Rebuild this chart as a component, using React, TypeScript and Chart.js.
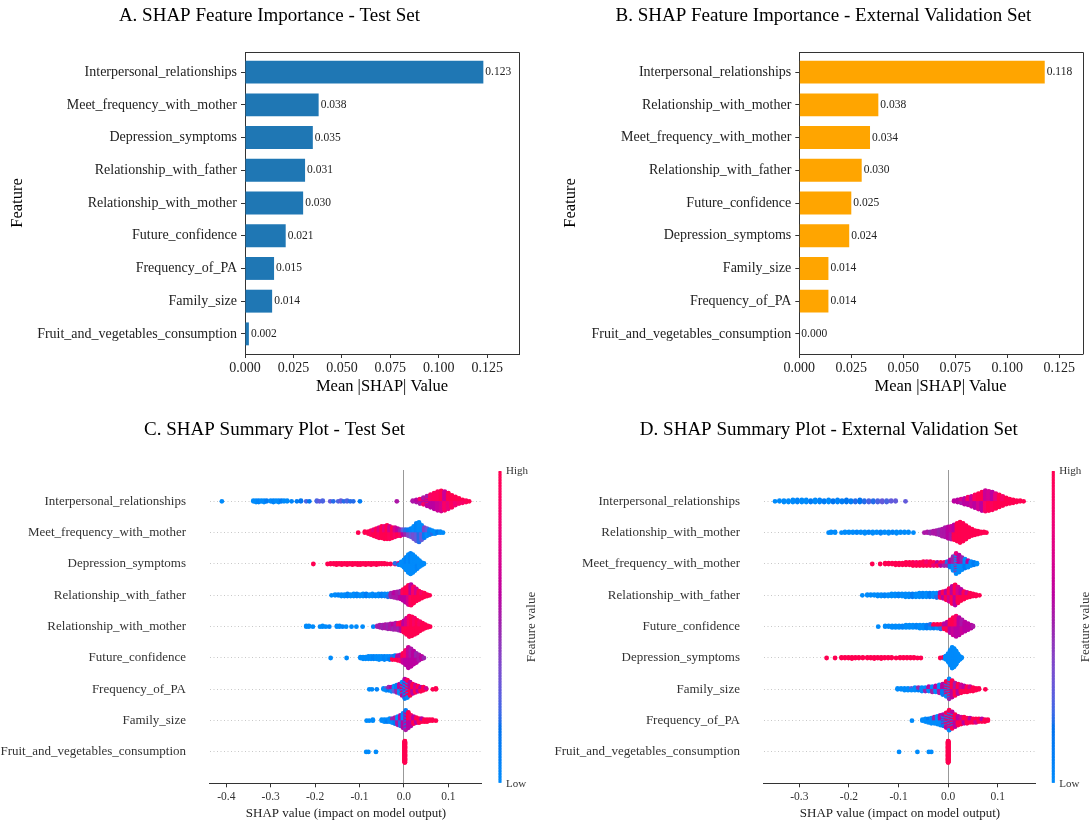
import React, { useEffect, useRef } from "react";
import { Chart, registerables } from "chart.js";

Chart.register(...registerables);

const SERIF = "'Liberation Serif', 'Times New Roman', Times, serif";
const PAGE_W = 1089;
const PAGE_H = 823;

// ---------- Mean |SHAP| importance (panels A and B) ----------
const testFeatures = [
  "Interpersonal_relationships",
  "Meet_frequency_with_mother",
  "Depression_symptoms",
  "Relationship_with_father",
  "Relationship_with_mother",
  "Future_confidence",
  "Frequency_of_PA",
  "Family_size",
  "Fruit_and_vegetables_consumption",
];
const testMeanShap = [0.123, 0.038, 0.035, 0.031, 0.03, 0.021, 0.015, 0.014, 0.002];

const extFeatures = [
  "Interpersonal_relationships",
  "Relationship_with_mother",
  "Meet_frequency_with_mother",
  "Relationship_with_father",
  "Future_confidence",
  "Depression_symptoms",
  "Family_size",
  "Frequency_of_PA",
  "Fruit_and_vegetables_consumption",
];
const extMeanShap = [0.118, 0.038, 0.034, 0.03, 0.025, 0.024, 0.014, 0.014, 0.0];

const importanceTicks = [0, 0.025, 0.05, 0.075, 0.1, 0.125];
const shapTicksTest = [-0.4, -0.3, -0.2, -0.1, 0, 0.1];
const shapTicksExt = [-0.3, -0.2, -0.1, 0, 0.1];

// ---------- SHAP summary samples (panels C and D) ----------
// Each entry: [SHAP value, number of samples, feature value(s) in 0..1 cycled over those samples]
const shapTestInterpersonal = [
  [-0.41, 1, 0.0],
  [-0.339, 2, 0.0], [-0.333, 3, 0.0], [-0.327, 3, 0.05], [-0.321, 2, 0.0], [-0.315, 3, 0.0],
  [-0.309, 2, 0.1], [-0.3, 2, 0.0], [-0.294, 3, 0.05], [-0.288, 2, 0.0], [-0.282, 3, 0.0],
  [-0.276, 2, 0.1], [-0.27, 2, 0.0], [-0.263, 2, 0.0],
  [-0.253, 1, 0.05], [-0.241, 1, 0.1], [-0.232, 2, 0.15], [-0.22, 1, 0.25], [-0.213, 1, 0.15],
  [-0.196, 2, 0.25], [-0.19, 1, 0.3], [-0.183, 2, 0.25],
  [-0.166, 1, 0.3], [-0.159, 1, 0.2],
  [-0.148, 1, 0.25], [-0.142, 2, 0.3], [-0.135, 1, 0.2], [-0.128, 2, 0.25], [-0.121, 1, 0.2],
  [-0.114, 1, 0.2], [-0.099, 1, 0.1],
  [-0.016, 1, 0.55],
  [0.02, 2, 0.55], [0.028, 4, 0.55, 0.6], [0.036, 7, 0.55, 0.6, 0.9], [0.044, 10, 0.55, 0.6, 0.9],
  [0.052, 14, 0.6, 0.55, 0.95], [0.06, 18, 0.6, 0.9], [0.068, 22, 0.6, 0.95], [0.076, 26, 0.65, 0.95],
  [0.084, 28, 0.7, 1.0], [0.092, 26, 0.9, 0.65], [0.1, 22, 0.8, 1.0], [0.108, 17, 0.95, 1.0],
  [0.116, 12, 0.85, 1.0], [0.124, 8, 0.9, 1.0], [0.132, 5, 0.9, 1.0], [0.14, 3, 0.95], [0.147, 1, 1.0],
];
const shapTestMeetFreq = [
  [-0.103, 1, 1.0], [-0.088, 2, 1.0], [-0.08, 3, 1.0], [-0.074, 5, 0.95], [-0.068, 7, 1.0, 0.8],
  [-0.062, 9, 1.0], [-0.056, 11, 0.95, 0.75], [-0.05, 12, 1.0], [-0.044, 13, 1.0, 0.8], [-0.038, 14, 1.0],
  [-0.032, 13, 0.95, 0.7], [-0.026, 11, 1.0], [-0.02, 10, 0.9, 0.7], [-0.014, 8, 1.0, 0.6],
  [-0.008, 7, 0.9, 0.5], [-0.002, 6, 0.6, 0.3], [0.004, 6, 0.5, 0.2], [0.01, 7, 0.4, 0.1],
  [0.016, 9, 0.3, 0.05], [0.022, 13, 0.35, 0.0], [0.028, 18, 0.3, 0.05], [0.034, 20, 0.2, 0.0],
  [0.04, 15, 0.3, 0.0], [0.046, 11, 0.1, 0.4], [0.052, 8, 0.0, 0.3], [0.058, 6, 0.05],
  [0.064, 4, 0.2, 0.0], [0.07, 3, 0.0], [0.076, 2, 0.1], [0.082, 2, 0.0], [0.088, 1, 0.0],
];
const shapTestDepression = [
  [-0.204, 1, 1], [-0.172, 1, 1], [-0.165, 2, 1], [-0.158, 2, 1], [-0.152, 3, 1], [-0.146, 2, 1],
  [-0.14, 3, 1], [-0.134, 2, 1], [-0.128, 3, 1], [-0.122, 2, 1], [-0.116, 3, 1], [-0.11, 2, 1],
  [-0.104, 3, 1], [-0.098, 3, 1], [-0.092, 2, 1], [-0.086, 3, 1], [-0.08, 2, 1], [-0.074, 3, 1],
  [-0.068, 2, 1], [-0.062, 3, 1], [-0.056, 2, 1], [-0.05, 2, 1], [-0.044, 2, 1], [-0.038, 1, 1],
  [-0.03, 1, 1], [-0.02, 2, 0.9, 0.2], [-0.012, 3, 0.1, 0.8], [-0.006, 6, 0.0], [0.0, 12, 0.0],
  [0.005, 20, 0.0, 0.05], [0.01, 28, 0.0], [0.015, 32, 0.0, 0.05], [0.02, 28, 0.0], [0.025, 22, 0.0],
  [0.03, 16, 0.05, 0.0], [0.035, 10, 0.0], [0.04, 5, 0.0], [0.045, 2, 0.0],
];
const shapTestFather = [
  [-0.163, 1, 0.0], [-0.155, 2, 0.0], [-0.148, 2, 0.05], [-0.141, 3, 0.0], [-0.134, 3, 0.0],
  [-0.127, 4, 0.05], [-0.12, 3, 0.0], [-0.113, 4, 0.0], [-0.106, 4, 0.05], [-0.099, 3, 0.0],
  [-0.092, 4, 0.0], [-0.085, 4, 0.1], [-0.078, 3, 0.0], [-0.071, 4, 0.0], [-0.064, 3, 0.05],
  [-0.057, 4, 0.0], [-0.05, 4, 0.1], [-0.043, 4, 0.05], [-0.036, 5, 0.2, 0.0], [-0.029, 6, 0.5],
  [-0.022, 8, 0.55, 0.6], [-0.015, 10, 0.55], [-0.008, 12, 0.6, 0.5], [-0.002, 16, 0.6, 0.95],
  [0.004, 22, 0.6, 1.0], [0.01, 28, 0.7, 1.0], [0.016, 30, 0.95, 0.6], [0.022, 24, 1.0, 0.9],
  [0.028, 18, 1.0, 0.7], [0.034, 13, 1.0], [0.04, 9, 1.0, 0.9], [0.046, 6, 1.0], [0.052, 3, 1.0],
  [0.058, 1, 1.0],
];
const shapTestMother = [
  [-0.22, 2, 0.0], [-0.214, 2, 0.0], [-0.205, 1, 0.0], [-0.189, 1, 0.0], [-0.183, 2, 0.0],
  [-0.176, 1, 0.0], [-0.168, 1, 0.05], [-0.151, 2, 0.0], [-0.145, 2, 0.0], [-0.138, 1, 0.05],
  [-0.13, 1, 0.0], [-0.118, 1, 0.0], [-0.107, 1, 0.0], [-0.093, 1, 0.0], [-0.069, 1, 0.05],
  [-0.06, 2, 0.5], [-0.054, 4, 0.55], [-0.048, 5, 0.5], [-0.042, 6, 0.55], [-0.036, 7, 0.5],
  [-0.03, 8, 0.55], [-0.024, 9, 0.5, 0.6], [-0.018, 10, 0.55], [-0.012, 11, 0.5, 0.9],
  [-0.006, 13, 0.6, 1.0], [0.0, 17, 1.0, 0.6], [0.006, 24, 1.0, 0.7], [0.012, 30, 1.0, 0.9],
  [0.018, 28, 1.0], [0.024, 24, 1.0, 0.9], [0.03, 19, 1.0], [0.036, 14, 1.0, 0.9], [0.042, 10, 1.0],
  [0.048, 6, 1.0], [0.054, 3, 1.0], [0.059, 1, 1.0],
];
const shapTestFuture = [
  [-0.165, 1, 0.0], [-0.129, 1, 0.0], [-0.098, 2, 0.0], [-0.092, 3, 0.0], [-0.086, 3, 0.0],
  [-0.08, 4, 0.0], [-0.074, 4, 0.0], [-0.068, 4, 0.05], [-0.062, 4, 0.0], [-0.056, 5, 0.0],
  [-0.05, 4, 0.0], [-0.044, 5, 0.05], [-0.038, 4, 0.0], [-0.032, 5, 0.1, 0.0], [-0.026, 5, 1.0, 0.2],
  [-0.02, 6, 1.0, 0.1], [-0.014, 7, 1.0, 0.6], [-0.008, 9, 0.9, 0.6], [-0.002, 13, 0.65, 1.0],
  [0.004, 20, 0.6, 0.9], [0.01, 28, 0.6, 0.65], [0.016, 24, 0.6, 0.55], [0.022, 18, 0.6],
  [0.028, 13, 0.6, 0.5], [0.034, 8, 0.55], [0.04, 4, 0.6], [0.045, 1, 0.5],
];
const shapTestPA = [
  [-0.078, 1, 0.0], [-0.072, 1, 0.0], [-0.061, 1, 0.05], [-0.046, 2, 0.0], [-0.04, 3, 0.0, 0.3],
  [-0.034, 4, 0.1, 0.5], [-0.028, 5, 0.0, 0.6], [-0.022, 6, 0.3, 0.0], [-0.016, 8, 0.5, 0.1],
  [-0.01, 10, 0.0, 0.6], [-0.004, 14, 0.6, 0.0, 1.0], [0.002, 20, 0.1, 0.6, 0.0], [0.008, 18, 0.7, 0.0, 1.0],
  [0.014, 14, 1.0, 0.6], [0.02, 10, 0.6, 1.0], [0.026, 8, 1.0, 0.7], [0.032, 6, 0.6, 1.0],
  [0.038, 5, 1.0, 0.6], [0.044, 4, 1.0], [0.05, 2, 1.0, 0.7], [0.065, 1, 1.0], [0.072, 2, 1.0],
];
const shapTestFamily = [
  [-0.084, 1, 0.0], [-0.078, 1, 0.0], [-0.07, 2, 0.0], [-0.05, 2, 0.0], [-0.044, 3, 0.0],
  [-0.038, 3, 0.1, 0.0], [-0.032, 4, 0.0], [-0.026, 5, 0.0, 0.5], [-0.02, 7, 0.1, 0.55],
  [-0.014, 9, 0.55, 0.0], [-0.008, 11, 0.2, 0.6], [-0.002, 15, 0.6, 0.0], [0.004, 20, 0.55, 0.1, 0.6],
  [0.01, 16, 0.6, 1.0], [0.016, 11, 0.6, 0.9], [0.022, 8, 1.0, 0.6], [0.028, 6, 0.6, 1.0],
  [0.034, 5, 1.0], [0.04, 4, 1.0, 0.6], [0.046, 3, 1.0], [0.052, 3, 1.0], [0.058, 2, 1.0],
  [0.064, 2, 1.0], [0.072, 1, 1.0],
];
const shapTestFruit = [
  [-0.085, 1, 0.0], [-0.08, 1, 0.0], [-0.063, 1, 0.0], [0.002, 60, 1.0],
];

const shapExtInterpersonal = [
  [-0.349, 1, 0], [-0.34, 2, 0], [-0.331, 3, 0], [-0.322, 3, 0], [-0.313, 4, 0], [-0.304, 4, 0.05],
  [-0.295, 4, 0], [-0.286, 4, 0], [-0.277, 3, 0.1], [-0.268, 4, 0], [-0.259, 4, 0.05], [-0.25, 3, 0.1],
  [-0.241, 4, 0], [-0.232, 3, 0.15], [-0.223, 4, 0.05], [-0.214, 3, 0.1], [-0.205, 4, 0.15],
  [-0.196, 3, 0.1], [-0.187, 3, 0.2], [-0.178, 4, 0.15], [-0.169, 3, 0.2], [-0.16, 3, 0.25],
  [-0.151, 3, 0.2], [-0.142, 3, 0.25], [-0.133, 3, 0.3], [-0.124, 3, 0.25], [-0.115, 2, 0.3],
  [-0.106, 2, 0.3], [-0.086, 1, 0.3],
  [0.012, 2, 0.6], [0.019, 4, 0.6], [0.026, 6, 0.55, 0.7], [0.033, 9, 0.6], [0.04, 12, 0.6, 0.9],
  [0.047, 15, 0.65], [0.054, 19, 0.6, 0.95], [0.061, 23, 0.7, 1.0], [0.068, 27, 0.6, 1.0],
  [0.075, 30, 0.9, 0.65], [0.082, 28, 1.0, 0.7], [0.089, 26, 0.95, 0.6], [0.096, 22, 1.0, 0.8],
  [0.103, 18, 1.0], [0.11, 14, 1.0, 0.9], [0.117, 10, 1.0], [0.124, 7, 1.0], [0.131, 5, 1.0],
  [0.138, 3, 1.0], [0.145, 2, 1.0], [0.152, 1, 1.0],
];
const shapExtMother = [
  [-0.241, 1, 0], [-0.236, 2, 0], [-0.228, 2, 0], [-0.215, 1, 0], [-0.208, 2, 0], [-0.2, 2, 0],
  [-0.192, 2, 0], [-0.184, 2, 0.05], [-0.176, 2, 0], [-0.168, 3, 0], [-0.16, 2, 0.05], [-0.152, 3, 0],
  [-0.144, 2, 0], [-0.136, 3, 0.05], [-0.128, 2, 0], [-0.12, 3, 0], [-0.112, 2, 0.05], [-0.104, 3, 0],
  [-0.096, 2, 0], [-0.088, 2, 0], [-0.08, 2, 0], [-0.07, 1, 0],
  [-0.048, 1, 0.55], [-0.042, 2, 0.55], [-0.036, 3, 0.5], [-0.03, 4, 0.55], [-0.024, 6, 0.55],
  [-0.018, 8, 0.5], [-0.012, 11, 0.55], [-0.006, 14, 0.55], [0.0, 17, 0.6], [0.006, 19, 0.55, 0.65],
  [0.012, 22, 1.0, 0.6], [0.018, 26, 1.0], [0.024, 30, 1.0], [0.03, 26, 1.0], [0.036, 20, 1.0],
  [0.042, 14, 1.0], [0.048, 10, 1.0], [0.054, 7, 1.0], [0.06, 5, 1.0], [0.066, 3, 1.0],
  [0.072, 2, 1.0], [0.077, 1, 1.0],
];
const shapExtMeetFreq = [
  [-0.153, 1, 1], [-0.137, 1, 1], [-0.127, 2, 1], [-0.12, 2, 1], [-0.113, 2, 1], [-0.106, 3, 1],
  [-0.099, 3, 1], [-0.092, 3, 1], [-0.085, 4, 1], [-0.078, 4, 1], [-0.071, 5, 1], [-0.064, 5, 1, 0.9],
  [-0.057, 5, 1], [-0.05, 6, 1], [-0.043, 6, 1, 0.85], [-0.036, 6, 1], [-0.029, 5, 0.8, 1],
  [-0.022, 5, 1, 0.6], [-0.015, 5, 0.6, 1], [-0.008, 5, 0.5, 0.9], [-0.002, 6, 0.5, 0.2],
  [0.004, 10, 0.1, 0.6], [0.01, 18, 0, 0.5], [0.016, 26, 0, 0.8, 0], [0.022, 22, 0, 0.6],
  [0.028, 16, 0, 0.5], [0.034, 12, 0.1, 0], [0.04, 9, 0, 0.6], [0.046, 6, 0], [0.052, 4, 0.1],
  [0.058, 2, 0],
];
const shapExtFather = [
  [-0.173, 1, 0], [-0.163, 2, 0], [-0.156, 2, 0], [-0.149, 2, 0], [-0.142, 3, 0], [-0.135, 3, 0],
  [-0.128, 3, 0.05], [-0.121, 3, 0], [-0.114, 4, 0], [-0.107, 4, 0], [-0.1, 4, 0.05], [-0.093, 4, 0],
  [-0.086, 5, 0], [-0.079, 5, 0], [-0.072, 5, 0.1], [-0.065, 5, 0], [-0.058, 6, 0], [-0.051, 6, 0.05],
  [-0.044, 6, 0], [-0.037, 6, 0.1], [-0.03, 6, 0], [-0.023, 7, 0.2, 0], [-0.016, 8, 1, 0.6],
  [-0.01, 10, 0.6, 1], [-0.004, 13, 1, 0.6], [0.002, 18, 0.7, 1], [0.008, 24, 1, 0.6],
  [0.014, 28, 0.6, 1], [0.02, 22, 1, 0.7], [0.026, 16, 1, 0.6], [0.032, 11, 1], [0.038, 8, 1, 0.7],
  [0.044, 6, 1], [0.05, 4, 1], [0.056, 3, 1], [0.063, 1, 1],
];
const shapExtFuture = [
  [-0.141, 1, 0], [-0.127, 2, 0], [-0.12, 2, 0], [-0.113, 3, 0], [-0.106, 3, 0], [-0.099, 3, 0],
  [-0.092, 3, 0.05], [-0.085, 4, 0], [-0.078, 4, 0], [-0.071, 4, 0], [-0.064, 4, 0.05], [-0.057, 5, 0],
  [-0.05, 5, 0], [-0.043, 5, 0.1], [-0.036, 6, 0, 0.2], [-0.029, 6, 0.1, 1], [-0.022, 6, 0, 1],
  [-0.015, 7, 0.2, 1], [-0.008, 8, 1, 0.6], [-0.002, 12, 1, 0.6], [0.004, 18, 0.6, 1],
  [0.01, 24, 0.65, 1], [0.016, 28, 0.6, 0.9], [0.022, 24, 0.6], [0.028, 18, 0.65, 0.55],
  [0.034, 13, 0.6], [0.04, 9, 0.6], [0.046, 5, 0.6], [0.05, 2, 0.55],
];
const shapExtDepression = [
  [-0.245, 1, 1], [-0.228, 1, 1], [-0.215, 2, 1], [-0.208, 2, 1], [-0.201, 2, 1], [-0.194, 3, 1],
  [-0.187, 2, 1], [-0.18, 2, 1], [-0.172, 2, 1], [-0.163, 2, 1], [-0.156, 2, 1], [-0.149, 3, 1],
  [-0.142, 2, 1], [-0.135, 3, 1], [-0.128, 2, 1], [-0.121, 2, 1], [-0.114, 2, 1], [-0.105, 1, 1],
  [-0.097, 2, 1], [-0.09, 2, 1], [-0.083, 2, 1], [-0.076, 2, 1], [-0.069, 2, 1], [-0.062, 1, 1],
  [-0.055, 1, 1], [-0.016, 1, 1], [-0.01, 2, 0, 1], [-0.005, 6, 0], [0.0, 14, 0], [0.004, 24, 0],
  [0.008, 34, 0], [0.012, 30, 0], [0.016, 22, 0], [0.02, 12, 0], [0.024, 5, 0], [0.027, 2, 0],
];
const shapExtFamily = [
  [-0.102, 2, 0], [-0.095, 2, 0], [-0.088, 3, 0], [-0.081, 3, 0], [-0.074, 3, 0, 0.3], [-0.067, 4, 0],
  [-0.06, 4, 0.1, 0.5], [-0.053, 5, 0], [-0.046, 5, 0.5, 0], [-0.039, 6, 0, 0.6], [-0.032, 7, 0.5, 0],
  [-0.025, 8, 0, 0.6], [-0.018, 10, 0.55, 0], [-0.011, 13, 0.1, 0.6], [-0.004, 18, 0.6, 0, 1],
  [0.002, 24, 1, 0.5, 0], [0.008, 20, 0.6, 1], [0.014, 15, 1, 0.55], [0.02, 12, 0.6, 1],
  [0.026, 10, 1, 0.7], [0.032, 8, 1, 0.6], [0.038, 7, 1], [0.044, 6, 1, 0.7], [0.05, 5, 1],
  [0.056, 3, 1], [0.062, 2, 1], [0.075, 1, 1],
];
const shapExtPA = [
  [-0.073, 1, 0], [-0.052, 2, 0], [-0.046, 4, 0], [-0.04, 5, 0, 0.1], [-0.034, 7, 0], [-0.028, 8, 0, 0.5],
  [-0.022, 10, 0], [-0.016, 12, 0, 0.6], [-0.01, 14, 0.1, 0.6, 0], [-0.004, 18, 0, 0.6, 1],
  [0.002, 24, 0.6, 0, 1], [0.008, 20, 1, 0.6, 0], [0.014, 15, 0.6, 1], [0.02, 11, 1, 0.6],
  [0.026, 9, 1, 0.7], [0.032, 8, 0.6, 1], [0.038, 7, 1], [0.044, 6, 1, 0.6], [0.05, 5, 1],
  [0.056, 5, 0.7, 1], [0.062, 4, 1], [0.068, 4, 1, 0.6], [0.074, 3, 1], [0.08, 2, 1],
];
const shapExtFruit = [
  [-0.099, 1, 0], [-0.062, 1, 0], [-0.039, 1, 0], [-0.034, 1, 0], [0.0, 60, 1],
];

const shapTestRows = [
  shapTestInterpersonal, shapTestMeetFreq, shapTestDepression, shapTestFather, shapTestMother,
  shapTestFuture, shapTestPA, shapTestFamily, shapTestFruit,
];
const shapExtRows = [
  shapExtInterpersonal, shapExtMother, shapExtMeetFreq, shapExtFather, shapExtFuture,
  shapExtDepression, shapExtFamily, shapExtPA, shapExtFruit,
];

// ---------- colour map (blue -> purple -> red, interpolated in LCH) ----------
function lab2rgb(L: number, a: number, b: number): string {
  const fy = (L + 16) / 116;
  const fx = fy + a / 500;
  const fz = fy - b / 200;
  const finv = (t: number) => (t > 0.206893 ? t * t * t : (t - 16 / 116) / 7.787);
  const X = 0.95047 * finv(fx);
  const Y = finv(fy);
  const Z = 1.08883 * finv(fz);
  const r = 3.2404542 * X - 1.5371385 * Y - 0.4985314 * Z;
  const g = -0.969266 * X + 1.8760108 * Y + 0.041556 * Z;
  const bl = 0.0556434 * X - 0.2040259 * Y + 1.0572252 * Z;
  const gam = (v: number) => {
    const s = v > 0.0031308 ? 1.055 * Math.pow(v, 1 / 2.4) - 0.055 : 12.92 * v;
    return Math.round(255 * Math.min(1, Math.max(0, s)));
  };
  return `rgb(${gam(r)},${gam(g)},${gam(bl)})`;
}

function redBlue(t: number): string {
  const L = t < 0.5 ? 54 - 14 * (t / 0.5) : 40 + 14 * ((t - 0.5) / 0.5);
  const C = 70 + 20 * t;
  const h0 = 4.6588;
  const h1 = 0.35470565 + 2 * Math.PI;
  const h = h0 + (h1 - h0) * t;
  return lab2rgb(L, C * Math.cos(h), C * Math.sin(h));
}

// ---------- beeswarm layout: stack samples that share a SHAP bin ----------
const NBINS = 100;
const ROW_HEIGHT = 0.4;

type SwarmPoint = { x: number; y: number; c: number };

function swarmPoints(rows: number[][][]): SwarmPoint[] {
  const out: SwarmPoint[] = [];
  rows.forEach((clusters, i) => {
    const pos = rows.length - 1 - i;
    const xs = clusters.map((c) => c[0]);
    const lo = Math.min(...xs);
    const hi = Math.max(...xs);
    const bins = new Map<number, { x: number; c: number }[][]>();
    clusters.forEach((entry) => {
      const [x, n, ...fv] = entry;
      const q = Math.round((NBINS * (x - lo)) / (hi - lo + 1e-8));
      const list: { x: number; c: number }[] = [];
      for (let k = 0; k < n; k++) list.push({ x, c: fv[k % fv.length] });
      if (!bins.has(q)) bins.set(q, []);
      bins.get(q)!.push(list);
    });
    const placed: { x: number; c: number; off: number }[] = [];
    let maxOff = 0;
    [...bins.keys()]
      .sort((a, b) => a - b)
      .forEach((q) => {
        const lists = bins.get(q)!;
        const merged: { x: number; c: number }[] = [];
        const len = Math.max(...lists.map((l) => l.length));
        for (let k = 0; k < len; k++) lists.forEach((l) => { if (k < l.length) merged.push(l[k]); });
        merged.forEach((p, layer) => {
          const off = Math.ceil(layer / 2) * ((layer % 2) * 2 - 1);
          if (off > maxOff) maxOff = off;
          placed.push({ ...p, off });
        });
      });
    const scale = (0.9 * ROW_HEIGHT) / (maxOff + 1);
    placed.forEach((p) => out.push({ x: p.x, y: pos + p.off * scale, c: p.c }));
  });
  return out;
}

// ---------- drawing helpers ----------
function text(
  ctx: CanvasRenderingContext2D,
  str: string,
  x: number,
  y: number,
  size: number,
  align: CanvasTextAlign = "center",
  rotate = false,
  color = "#111"
) {
  ctx.save();
  ctx.font = `${size}px ${SERIF}`;
  ctx.fillStyle = color;
  ctx.textAlign = align;
  ctx.textBaseline = "middle";
  ctx.translate(x, y);
  if (rotate) ctx.rotate(-Math.PI / 2);
  ctx.fillText(str, 0, 0);
  ctx.restore();
}

type Area = { left: number; right: number; top: number; bottom: number };

type ImportanceOpts = {
  features: string[];
  values: number[];
  color: string;
  area: Area;
  xMax: number;
  title: string;
  titleX: number;
  yTitleX: number;
  xTitleX: number;
};

function importanceChart(canvas: HTMLCanvasElement, o: ImportanceOpts) {
  const { area } = o;
  const xAxisH = 40;
  const annotate = {
    id: "importanceAnnotations",
    afterDatasetsDraw(chart: any) {
      const ctx = chart.ctx as CanvasRenderingContext2D;
      const meta = chart.getDatasetMeta(0);
      meta.data.forEach((bar: any, i: number) => {
        text(ctx, o.values[i].toFixed(3), bar.x + 2, bar.y, 11.5, "left", false, "#222");
      });
    },
    afterDraw(chart: any) {
      const ctx = chart.ctx as CanvasRenderingContext2D;
      const ca = chart.chartArea;
      ctx.save();
      ctx.strokeStyle = "#333";
      ctx.lineWidth = 1;
      ctx.beginPath();
      ctx.moveTo(Math.round(ca.left) + 0.5, Math.round(ca.top) + 0.5);
      ctx.lineTo(Math.round(ca.right) + 0.5, Math.round(ca.top) + 0.5);
      ctx.lineTo(Math.round(ca.right) + 0.5, Math.round(ca.bottom) + 0.5);
      ctx.stroke();
      ctx.restore();
      text(ctx, o.title, o.titleX, 15.6, 19, "center", false, "#000");
      text(ctx, "Feature", o.yTitleX, 203, 16.5, "center", true, "#000");
      text(ctx, "Mean |SHAP| Value", o.xTitleX, 387, 16.5, "center", false, "#000");
    },
  };
  return new Chart(canvas, {
    type: "bar",
    data: {
      datasets: [
        {
          data: o.values.map((v, i) => ({ x: v, y: i })),
          backgroundColor: o.color,
          borderWidth: 0,
          categoryPercentage: 1,
          barPercentage: 0.7,
        },
      ],
    },
    options: {
      indexAxis: "y",
      animation: false,
      responsive: false,
      devicePixelRatio: 1,
      events: [],
      layout: {
        padding: {
          left: 0,
          top: area.top,
          right: PAGE_W - area.right,
          bottom: PAGE_H - area.bottom - xAxisH,
        },
      },
      plugins: { legend: { display: false }, tooltip: { enabled: false } },
      scales: {
        x: {
          type: "linear",
          min: 0,
          max: o.xMax,
          afterBuildTicks: (s: any) => {
            s.ticks = importanceTicks.map((v) => ({ value: v }));
          },
          afterFit: (s: any) => {
            s.height = xAxisH;
          },
          ticks: {
            callback: (v: any) => Number(v).toFixed(3),
            font: { family: SERIF, size: 14 },
            color: "#222",
            padding: 1.6,
            maxRotation: 0,
            autoSkip: false,
          },
          grid: { drawOnChartArea: false, drawTicks: true, tickLength: 4, color: "#333", lineWidth: 1 },
          border: { color: "#333", width: 1 },
        },
        y: {
          type: "linear",
          reverse: true,
          offset: false,
          min: -0.615,
          max: 8.615,
          afterBuildTicks: (s: any) => {
            s.ticks = o.features.map((_, i) => ({ value: i }));
          },
          afterFit: (s: any) => {
            s.width = area.left;
          },
          ticks: {
            callback: (v: any) => o.features[Number(v)],
            font: { family: SERIF, size: 14 },
            color: "#222",
            padding: 4,
            autoSkip: false,
          },
          grid: {
            offset: false,
            drawOnChartArea: false,
            drawTicks: true,
            tickLength: 4,
            color: "#333",
            lineWidth: 1,
          },
          border: { color: "#333", width: 1 },
        },
      },
    } as any,
    plugins: [annotate],
  });
}

type SummaryOpts = {
  features: string[];
  rows: number[][][];
  area: Area;
  xMin: number;
  xMax: number;
  ticks: number[];
  title: string;
  titleX: number;
  xTitleX: number;
  cbX: number;
};

function summaryChart(canvas: HTMLCanvasElement, o: SummaryOpts) {
  const { area } = o;
  const xAxisH = 30;
  const pts = swarmPoints(o.rows);
  const n = o.features.length;
  const annotate = {
    id: "summaryAnnotations",
    afterDraw(chart: any) {
      const ctx = chart.ctx as CanvasRenderingContext2D;
      const ca = chart.chartArea;
      // colour bar
      const top = ca.top + 1;
      const bottom = ca.bottom - 1;
      const steps = 200;
      const h = (bottom - top) / steps;
      for (let k = 0; k < steps; k++) {
        ctx.fillStyle = redBlue(1 - (k + 0.5) / steps);
        ctx.fillRect(o.cbX - 1.5, top + k * h, 3, h + 0.6);
      }
      text(ctx, "High", o.cbX + 6, top, 11, "left", false, "#333");
      text(ctx, "Low", o.cbX + 6, bottom + 2, 11, "left", false, "#333");
      text(ctx, "Feature value", o.cbX + 32, 627, 13, "center", true, "#333");
      text(ctx, o.title, o.titleX, 430, 19, "center", false, "#000");
      text(ctx, "SHAP value (impact on model output)", o.xTitleX, 814, 13, "center", false, "#222");
    },
  };
  return new Chart(canvas, {
    type: "scatter",
    data: {
      datasets: [
        {
          data: pts.map((p) => ({ x: p.x, y: p.y })),
          pointBackgroundColor: pts.map((p) => redBlue(p.c)),
          pointBorderWidth: 0,
          pointRadius: 2.4,
          pointHoverRadius: 0,
        },
      ],
    },
    options: {
      animation: false,
      responsive: false,
      devicePixelRatio: 1,
      events: [],
      layout: {
        padding: {
          left: 0,
          top: area.top,
          right: PAGE_W - area.right,
          bottom: PAGE_H - area.bottom - xAxisH,
        },
      },
      plugins: { legend: { display: false }, tooltip: { enabled: false } },
      scales: {
        x: {
          type: "linear",
          min: o.xMin,
          max: o.xMax,
          afterBuildTicks: (s: any) => {
            s.ticks = o.ticks.map((v) => ({ value: v }));
          },
          afterFit: (s: any) => {
            s.height = xAxisH;
          },
          ticks: {
            callback: (v: any) => Number(v).toFixed(1),
            font: { family: SERIF, size: 11.5 },
            color: "#333",
            padding: 2.5,
            maxRotation: 0,
            autoSkip: false,
          },
          grid: {
            drawOnChartArea: true,
            drawTicks: true,
            tickLength: 4,
            color: (c: any) => (c.tick && c.tick.value === 0 ? "#999999" : "rgba(0,0,0,0)"),
            tickColor: "#333",
            lineWidth: 1,
          },
          border: { color: "#333", width: 1 },
        },
        y: {
          type: "linear",
          min: -1,
          max: 9,
          afterBuildTicks: (s: any) => {
            s.ticks = o.features.map((_, i) => ({ value: i }));
          },
          afterFit: (s: any) => {
            s.width = area.left;
          },
          ticks: {
            callback: (v: any) => o.features[n - 1 - Number(v)],
            font: { family: SERIF, size: 13 },
            color: "#333",
            padding: 23.6,
            autoSkip: false,
          },
          grid: { drawTicks: false, color: "#c8c8c8", lineWidth: 1 },
          border: { display: false, dash: [1, 2.5] },
        },
      },
    } as any,
    plugins: [annotate],
  });
}

export default function App() {
  const aRef = useRef<HTMLCanvasElement>(null);
  const bRef = useRef<HTMLCanvasElement>(null);
  const cRef = useRef<HTMLCanvasElement>(null);
  const dRef = useRef<HTMLCanvasElement>(null);

  useEffect(() => {
    const charts = [
      importanceChart(aRef.current!, {
        features: testFeatures,
        values: testMeanShap,
        color: "#1f77b4",
        area: { left: 245, right: 519, top: 52, bottom: 354 },
        xMax: 0.1414,
        title: "A. SHAP Feature Importance - Test Set",
        titleX: 269.4,
        yTitleX: 17.4,
        xTitleX: 382,
      }),
      importanceChart(bRef.current!, {
        features: extFeatures,
        values: extMeanShap,
        color: "#ffa500",
        area: { left: 799.3, right: 1082.8, top: 52, bottom: 354 },
        xMax: 0.1363,
        title: "B. SHAP Feature Importance - External Validation Set",
        titleX: 823.4,
        yTitleX: 571,
        xTitleX: 940.6,
      }),
      summaryChart(cRef.current!, {
        features: testFeatures,
        rows: shapTestRows,
        area: { left: 209.6, right: 481.4, top: 470, bottom: 783.3 },
        xMin: -0.4376,
        xMax: 0.1745,
        ticks: shapTicksTest,
        title: "C. SHAP Summary Plot - Test Set",
        titleX: 274.6,
        xTitleX: 346,
        cbX: 500,
      }),
      summaryChart(dRef.current!, {
        features: extFeatures,
        rows: shapExtRows,
        area: { left: 763.6, right: 1035.3, top: 470, bottom: 783.3 },
        xMin: -0.372,
        xMax: 0.1756,
        ticks: shapTicksExt,
        title: "D. SHAP Summary Plot - External Validation Set",
        titleX: 828.8,
        xTitleX: 900,
        cbX: 1053.3,
      }),
    ];
    return () => charts.forEach((c) => c.destroy());
  }, []);

  const canvasStyle: React.CSSProperties = { position: "absolute", left: 0, top: 0 };
  return (
    <div
      style={{
        position: "fixed",
        left: 0,
        top: 0,
        width: PAGE_W,
        height: PAGE_H,
        background: "#fff",
        overflow: "hidden",
      }}
    >
      <canvas ref={aRef} width={PAGE_W} height={PAGE_H} style={canvasStyle} />
      <canvas ref={bRef} width={PAGE_W} height={PAGE_H} style={canvasStyle} />
      <canvas ref={cRef} width={PAGE_W} height={PAGE_H} style={canvasStyle} />
      <canvas ref={dRef} width={PAGE_W} height={PAGE_H} style={canvasStyle} />
    </div>
  );
}
